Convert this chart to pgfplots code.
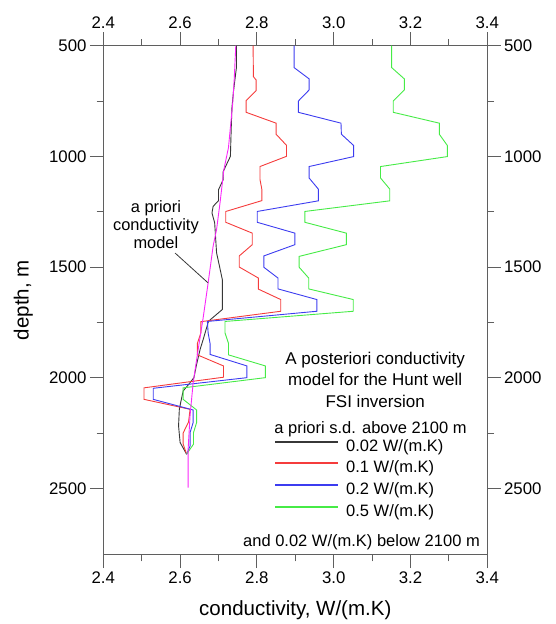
\documentclass[border=0pt]{standalone}
\usepackage{pgfplots}
\pgfplotsset{compat=1.18}
\usepackage{fontspec}
\setmainfont{Liberation Sans}
\definecolor{cblack}{RGB}{55,55,55}
\definecolor{cred}{RGB}{245,60,60}
\definecolor{cblue}{RGB}{60,60,240}
\definecolor{cgreen}{RGB}{70,235,70}
\definecolor{cmag}{RGB}{250,40,250}
\definecolor{caxis}{RGB}{95,95,95}
\newcommand{\fs}{\fontsize{16.5}{19}\selectfont}
\pgfplotsset{
  common/.style={
    at={(0,0)}, anchor=south west,
    scale only axis, width=384pt, height=509pt,
    xmin=2.4, xmax=3.4, ymin=500, ymax=2800, y dir=reverse,
    xtick={2.4,2.6,2.8,3.0,3.2,3.4}, minor x tick num=1,
    ytick={500,1000,1500,2000,2500}, minor y tick num=1,
    tick align=outside, major tick length=13.3pt, minor tick length=6.7pt,
    axis line style={caxis, line width=0.9pt},
    tick style={caxis, line width=0.9pt},
    ticklabel style={font=\fontsize{16.8}{19}\selectfont},
    /pgf/number format/assume math mode=true,
    xticklabel style={/pgf/number format/.cd, fixed, fixed zerofill, precision=1},
    yticklabel style={/pgf/number format/.cd, set thousands separator={}},
  }
}
\begin{document}
\begin{tikzpicture}
\useasboundingbox (-103.3pt,-69.3pt) rectangle (451.7pt,554.7pt);
\begin{axis}[common,
  xlabel={conductivity, W/(m.K)}, ylabel={depth, m},
  every axis x label/.style={at={(axis description cs:0.5,-0.110)}, anchor=center, font=\fontsize{20.5}{24}\selectfont},
  every axis y label/.style={at={(axis description cs:-0.2083,0.5)}, anchor=center, rotate=90, font=\fontsize{20.5}{24}\selectfont},
  legend style={at={(axis cs:2.845,2257)}, anchor=north west, draw=none, fill=none,
    inner sep=0pt, outer sep=0pt, row sep=0pt, column sep=7pt,
    nodes={inner sep=0pt, text height=16.7pt, text depth=5pt, font=\fs}},
  legend cell align=left,
  legend image code/.code={\draw[#1, line width=2pt] (0pt,0.36em) -- (63pt,0.36em);},
]
\addplot[color=cblack, line width=0.9pt, forget plot] coordinates {
(2.747,500) (2.747,595) (2.743,650) (2.739,707) (2.735,780) (2.733,880) (2.731,1000)
(2.720,1040) (2.712,1070) (2.712,1106) (2.700,1151) (2.700,1200) (2.686,1226)
(2.683,1256) (2.690,1300) (2.695,1436) (2.703,1500) (2.710,1557) (2.710,1692)
(2.674,1745) (2.660,1828) (2.652,1873) (2.643,1940) (2.636,2000) (2.622,2031)
(2.608,2060) (2.603,2100) (2.598,2143) (2.596,2218) (2.600,2293) (2.617,2346)};
\addplot[color=cred, line width=0.9pt, forget plot] coordinates {
(2.790,500) (2.791,640) (2.798,655) (2.798,703) (2.772,748) (2.772,801)
(2.850,850) (2.850,900) (2.877,950) (2.877,1000) (2.808,1046) (2.808,1104)
(2.813,1150) (2.813,1200) (2.719,1249) (2.719,1298) (2.788,1347) (2.788,1399)
(2.754,1450) (2.754,1500) (2.804,1550) (2.804,1600) (2.862,1647) (2.862,1700)
(2.654,1747) (2.654,1798) (2.645,1845) (2.645,1897) (2.713,1947) (2.713,1998)
(2.506,2046) (2.506,2098) (2.626,2143) (2.622,2200) (2.608,2250) (2.608,2300)
(2.617,2346)};
\addplot[color=cblue, line width=0.9pt, forget plot] coordinates {
(2.897,500) (2.897,599) (2.936,650) (2.936,700) (2.908,750) (2.908,801)
(3.019,850) (3.020,900) (3.052,951) (3.052,1001) (2.936,1046) (2.936,1098)
(2.960,1148) (2.960,1201) (2.801,1249) (2.801,1298) (2.899,1347) (2.899,1399)
(2.818,1450) (2.818,1501) (2.855,1550) (2.855,1599) (2.956,1647) (2.956,1700)
(2.671,1746) (2.673,1798) (2.678,1845) (2.678,1895) (2.774,1947) (2.774,2000)
(2.530,2048) (2.530,2098) (2.634,2146) (2.634,2203) (2.626,2248) (2.626,2309)
(2.617,2346)};
\addplot[color=cgreen, line width=0.9pt, forget plot] coordinates {
(3.151,500) (3.151,599) (3.184,650) (3.184,700) (3.155,750) (3.155,801)
(3.275,850) (3.275,900) (3.296,951) (3.296,1001) (3.122,1046) (3.122,1098)
(3.146,1148) (3.146,1201) (2.925,1249) (2.925,1298) (3.033,1347) (3.033,1399)
(2.910,1452) (2.910,1501) (2.935,1550) (2.935,1599) (3.051,1647) (3.051,1700)
(2.717,1746) (2.717,1798) (2.726,1845) (2.726,1897) (2.822,1947) (2.822,2000)
(2.608,2046) (2.608,2098) (2.643,2146) (2.643,2203) (2.635,2248) (2.635,2300)
(2.617,2346)};
\addplot[color=cmag, line width=0.9pt, forget plot] coordinates {
(2.745,500) (2.741,650) (2.737,760) (2.726,960) (2.714,1060) (2.704,1210)
(2.695,1330) (2.686,1406) (2.673,1572) (2.660,1730) (2.647,1873) (2.634,2023)
(2.626,2170) (2.621,2320) (2.621,2497)};
\addlegendimage{color=cblack}
\addlegendentry{0.02 W/(m.K)}
\addlegendimage{color=cred}
\addlegendentry{0.1 W/(m.K)}
\addlegendimage{color=cblue}
\addlegendentry{0.2 W/(m.K)}
\addlegendimage{color=cgreen}
\addlegendentry{0.5 W/(m.K)}
\node[align=center, font=\fontsize{16.4}{18.3}\selectfont, inner sep=0pt] at (axis cs:2.537,1309) {a priori\\conductivity\\model};
\draw[cblack, line width=0.8pt] (axis cs:2.587,1437) -- (axis cs:2.673,1572);
\node[align=center, font=\fontsize{17}{21.3}\selectfont, inner sep=0pt] at (axis cs:3.108,2010) {A posteriori conductivity\\model for the Hunt well\\FSI inversion};
\node[anchor=west, font=\fs, inner sep=0pt] at (axis cs:2.845,2232) {a priori s.d. above 2100 m};
\node[anchor=east, font=\fs, inner sep=0pt] at (axis cs:3.381,2742) {and 0.02 W/(m.K) below 2100 m};
\end{axis}
\begin{axis}[common,
  xticklabel pos=upper, yticklabel pos=upper,
  axis line style={draw=none}, tick style={draw=none},
]
\addplot[draw=none, forget plot] coordinates {(2.5,1000)};
\end{axis}
\end{tikzpicture}
\end{document}
